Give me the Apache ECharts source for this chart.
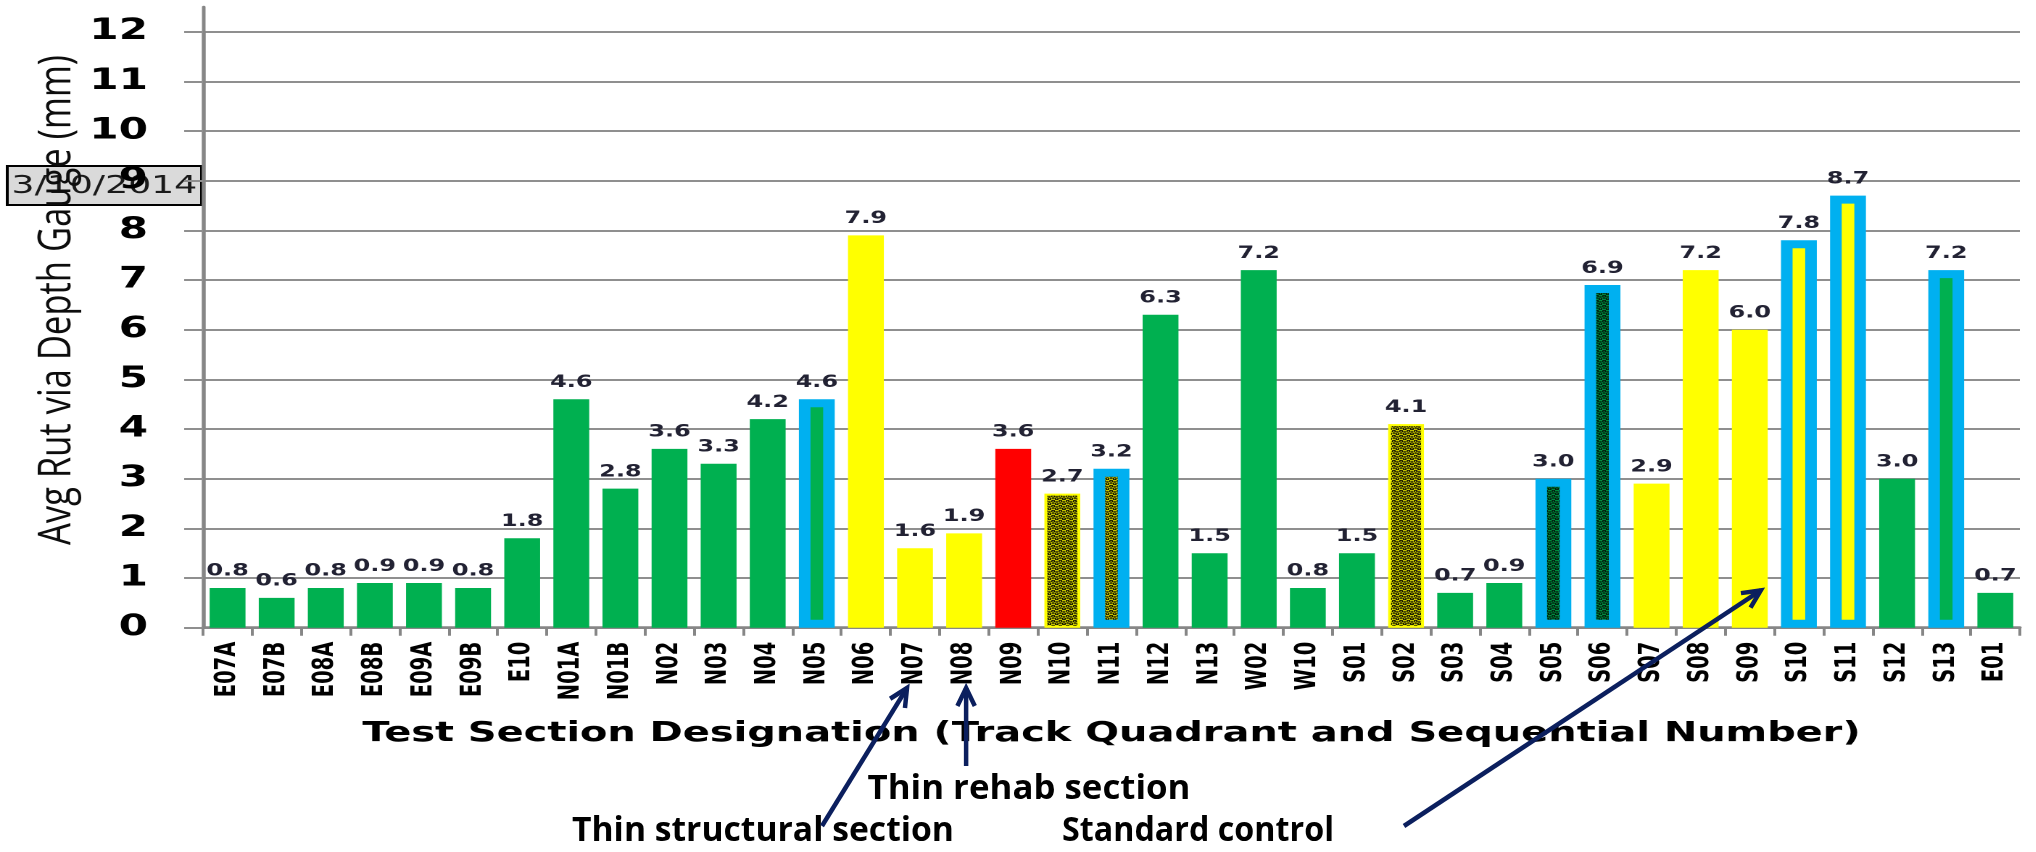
<!DOCTYPE html>
<html>
<head>
<meta charset="utf-8">
<script src="https://cdn.jsdelivr.net/npm/echarts@6.0.0/dist/echarts.min.js"></script>
<style>
  html, body { margin: 0; padding: 0; background: #ffffff; overflow: hidden; }
  #wrap { position: relative; width: 2036px; height: 852px; }
  #chart { position: absolute; left: 0; top: 0; height: 852px; transform-origin: 0 0; }
  #notes { position: absolute; left: 0; top: 0; width: 2036px; height: 852px; }
</style>
</head>
<body>
<div id="wrap">
  <div id="chart"></div>
  <div id="notes"></div>
</div>
<script>
// ---- Data -----------------------------------------------------------------
const sections = ['E07A', 'E07B', 'E08A', 'E08B', 'E09A', 'E09B', 'E10', 'N01A', 'N01B', 'N02',
  'N03', 'N04', 'N05', 'N06', 'N07', 'N08', 'N09', 'N10', 'N11', 'N12', 'N13', 'W02', 'W10',
  'S01', 'S02', 'S03', 'S04', 'S05', 'S06', 'S07', 'S08', 'S09', 'S10', 'S11', 'S12', 'S13', 'E01'];
const rutDepthMm = [0.8, 0.6, 0.8, 0.9, 0.9, 0.8, 1.8, 4.6, 2.8, 3.6,
  3.3, 4.2, 4.6, 7.9, 1.6, 1.9, 3.6, 2.7, 3.2, 6.3, 1.5, 7.2, 0.8,
  1.5, 4.1, 0.7, 0.9, 3.0, 6.9, 2.9, 7.2, 6.0, 7.8, 8.7, 3.0, 7.2, 0.7];

// section groupings used for bar fills / outlines
const yellowSections = ['N06', 'N07', 'N08', 'S07', 'S08', 'S09', 'S10', 'S11'];
const redSections = ['N09'];
const yellowTextured = ['N10', 'N11', 'S02'];
const greenTextured = ['S05', 'S06'];
const blueOutlined = ['N05', 'N11', 'S05', 'S06', 'S10', 'S11', 'S13'];

const yMin = 0, yMax = 12, yStep = 1;
const dateStamp = '3/10/2014';
const xTitle = 'Test Section Designation (Track Quadrant and Sequential Number)';
const yTitle = 'Avg Rut via Depth Gauge (mm)';
const notes = ['Thin rehab section', 'Thin structural section', 'Standard control'];

// ---- Styling ----------------------------------------------------------------
const STRETCH = 1.45;               // the plot is drawn narrow and widened horizontally
const W = 2036 / STRETCH;
const GREEN = '#00B050', YELLOW = '#FFFF00', RED = '#FF0000', BLUE = '#00B0F0';
const GRID_GREY = '#8F8F8F', AXIS_GREY = '#868686';
const NAVY = '#0B1F5E';
const BOLD = 'DejaVu Sans';

document.getElementById('chart').style.width = W + 'px';
document.getElementById('chart').style.transform = 'scaleX(' + STRETCH + ')';

function texture(bg, ink, lw) {
  const c = document.createElement('canvas');
  c.width = 10; c.height = 10;
  const g = c.getContext('2d');
  g.fillStyle = bg; g.fillRect(0, 0, 10, 10);
  g.strokeStyle = ink; g.lineWidth = lw;
  g.beginPath(); g.arc(2.5, 2.5, 2.0, 0, Math.PI * 2); g.stroke();
  g.beginPath(); g.arc(7.5, 7.5, 2.0, 0, Math.PI * 2); g.stroke();
  g.fillStyle = ink;
  g.fillRect(5.5, 1.5, 4, 2);
  g.fillRect(0.5, 6.5, 4, 2);
  return { image: c, repeat: 'repeat', scaleX: 0.5, scaleY: 0.5 };
}
const yellowTex = texture(YELLOW, '#0b0b00', 1.9);
const greenTex = texture(GREEN, '#021a0b', 2.1);

function barStyle(name) {
  const st = { color: GREEN };
  if (yellowSections.includes(name)) st.color = YELLOW;
  if (redSections.includes(name)) st.color = RED;
  if (yellowTextured.includes(name)) { st.color = yellowTex; st.borderColor = YELLOW; st.borderWidth = 2; }
  if (greenTextured.includes(name)) st.color = greenTex;
  if (blueOutlined.includes(name)) { st.borderColor = BLUE; st.borderWidth = 8; }
  return st;
}

const measureCtx = document.createElement('canvas').getContext('2d');
function textWidth(font, text) { measureCtx.font = font; return measureCtx.measureText(text).width; }

// ---- Main chart ---------------------------------------------------------------
const main = echarts.init(document.getElementById('chart'), null, { renderer: 'canvas', devicePixelRatio: 2 });

const yTitleFont = '500 31px "Open Sans"';
const yTitleScale = 490 / textWidth(yTitleFont, yTitle);

main.setOption({
  animation: false,
  backgroundColor: '#ffffff',
  grid: [
    { left: 140, right: 11, top: 31.7, bottom: 224.3 },
    { left: 140, right: 11, top: 7, bottom: 224.3 }
  ],
  xAxis: [{
    type: 'category', gridIndex: 0, data: sections,
    axisLine: { lineStyle: { color: AXIS_GREY, width: 2.5 } },
    axisTick: { show: true, interval: 0, length: 8, lineStyle: { color: AXIS_GREY, width: 2 } },
    axisLabel: { interval: 0, rotate: 90, margin: 14, color: '#000', fontFamily: BOLD, fontWeight: 'bold', fontSize: 19.5 },
    name: xTitle, nameLocation: 'middle', nameGap: 92,
    nameTextStyle: { color: '#000', fontFamily: BOLD, fontWeight: 'bold', fontSize: 27.5 }
  }, {
    type: 'category', gridIndex: 1, data: sections, show: false
  }],
  yAxis: [{
    type: 'value', gridIndex: 0, min: yMin, max: yMax, interval: yStep,
    axisLine: { show: true, lineStyle: { color: AXIS_GREY, width: 2.5 } },
    axisTick: { show: true, length: 13, lineStyle: { color: GRID_GREY, width: 2 } },
    axisLabel: { margin: 38, color: '#000', fontFamily: BOLD, fontWeight: 'bold', fontSize: 29 },
    splitLine: { show: true, lineStyle: { color: GRID_GREY, width: 2 } }
  }, {
    type: 'value', gridIndex: 1, min: 0, max: 1,
    axisLine: { show: true, lineStyle: { color: AXIS_GREY, width: 2.5 } },
    axisTick: { show: false }, axisLabel: { show: false }, splitLine: { show: false }
  }],
  series: [{
    type: 'bar', xAxisIndex: 0, yAxisIndex: 0,
    barWidth: '73%',
    data: rutDepthMm.map((v, i) => ({ value: v, itemStyle: barStyle(sections[i]) })),
    label: {
      show: true, position: 'top', distance: 8,
      formatter: p => p.value.toFixed(1),
      color: '#222233', fontFamily: BOLD, fontWeight: 'bold', fontSize: 16.5
    }
  }],
  graphic: [{
    type: 'group', x: 5, y: 166, z: 50,
    children: [
      { type: 'rect', shape: { x: 0, y: 0, width: 134, height: 39 },
        style: { fill: 'rgba(214,214,214,0.9)', stroke: '#000', lineWidth: 2 } },
      { type: 'text', x: 67, y: 20.5,
        style: { text: dateStamp, font: '500 25px "DejaVu Sans"', fill: '#1a1a1a', align: 'center', verticalAlign: 'middle' } }
    ]
  }, {
    type: 'text', x: 39.5, y: 300, rotation: Math.PI / 2, scaleX: yTitleScale, z: 60,
    style: { text: yTitle, font: yTitleFont, fill: '#0d0d0d', align: 'center', verticalAlign: 'middle' }
  }]
});

// ---- Call-outs below the plot ------------------------------------------------
const notesChart = echarts.init(document.getElementById('notes'), null, { renderer: 'canvas' });
const catX = name => main.convertToPixel({ xAxisIndex: 0 }, name) * STRETCH;
const valY = v => main.convertToPixel({ yAxisIndex: 0 }, v);

function arrow(from, to) {
  const ang = Math.atan2(to[1] - from[1], to[0] - from[0]);
  const L = 20, a = 0.45;
  const p1 = [to[0] - L * Math.cos(ang - a), to[1] - L * Math.sin(ang - a)];
  const p2 = [to[0] - L * Math.cos(ang + a), to[1] - L * Math.sin(ang + a)];
  return [
    { type: 'polyline', shape: { points: [from, to] }, style: { stroke: NAVY, lineWidth: 4.5, fill: null } },
    { type: 'polyline', shape: { points: [p1, to, p2] }, style: { stroke: NAVY, lineWidth: 4.5, fill: null, lineJoin: 'miter' } }
  ];
}

const noteFont = 'bold 34px "Open Sans"';
function note(text, cx, cy, width) {
  return { type: 'text', x: cx, y: cy, scaleX: width / textWidth(noteFont, text),
    style: { text: text, font: noteFont, fill: '#000', align: 'center', verticalAlign: 'middle' } };
}

const elements = [
  note(notes[0], 1029, 789, 323),
  note(notes[1], 763, 831, 382),
  note(notes[2], 1198, 831, 272)
].concat(
  arrow([822, 826], [catX('N07') - 8, 688]),
  arrow([catX('N08') + 2, 766], [catX('N08') + 2, 688]),
  arrow([1404, 826], [catX('S09') + 11, valY(0.75)])
);

notesChart.setOption({ animation: false, graphic: { elements: elements } });
</script>
</body>
</html>
